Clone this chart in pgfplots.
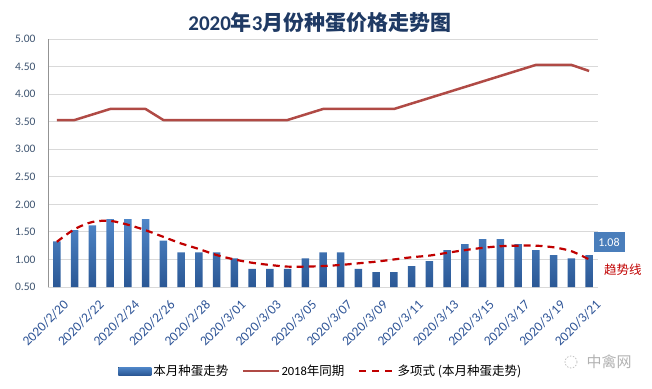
\documentclass[border=0pt]{standalone}
\usepackage{pgfplots}
\pgfplotsset{compat=1.18}
\usepackage{fontspec}
\setmainfont{Carlito}
\newfontfamily\cjk{Noto Sans CJK SC}
\definecolor{barTop}{HTML}{4F86C8}
\definecolor{barBot}{HTML}{2B5895}
\definecolor{line18}{HTML}{B04A45}
\definecolor{trend}{HTML}{C00000}
\definecolor{gridc}{HTML}{D9D9D9}
\definecolor{ytl}{HTML}{3E5470}
\definecolor{xtl}{HTML}{2F5597}
\definecolor{titlec}{HTML}{1F3A64}
\definecolor{labbox}{HTML}{4A7EBB}
\begin{document}
\begin{tikzpicture}
\path[use as bounding box] (0,0) rectangle (652pt,388pt);
\begin{axis}[
  at={(48pt,101pt)}, anchor=south west,
  scale only axis, width=550pt, height=248pt,
  xmin=-0.5, xmax=30.5, ymin=0.5, ymax=5,
  clip=false,
  axis x line*=bottom, axis y line*=left,
  x axis line style={draw=gridc, line width=0.8pt},
  y axis line style={draw=gray!85, line width=0.8pt},
  major tick length=0pt,
  ytick={0.5,1,...,5},
  ymajorgrids, grid style={gridc, line width=0.8pt},
  xtick={0,2,...,30},
  xticklabels={2020/2/20,2020/2/22,2020/2/24,2020/2/26,2020/2/28,2020/3/01,2020/3/03,2020/3/05,2020/3/07,2020/3/09,2020/3/11,2020/3/13,2020/3/15,2020/3/17,2020/3/19,2020/3/21},
  xticklabel style={rotate=45, anchor=north east, font=\fontsize{13.5}{15}\selectfont, text=xtl, xshift=-1pt, yshift=-9pt},
  yticklabel style={font=\fontsize{11.5}{13}\selectfont, text=ytl, xshift=-9pt},
  /pgf/number format/assume math mode=true,
  yticklabel={\pgfmathprintnumber[fixed,fixed zerofill,precision=2]{\tick}},
  legend columns=3,
  legend style={at={(0.496,-0.339)}, anchor=center, draw=none, fill=none,
    font=\fontsize{12.5}{14}\selectfont\cjk,
    /tikz/every even column/.append style={column sep=12pt}},
]
\addplot[ybar, bar width=7.5pt, draw=none, top color=barTop, bottom color=barBot,
  legend image code/.code={\fill[top color=barTop, bottom color=barBot] (0pt,-4pt) rectangle (33pt,4pt);}]
coordinates {
(0,1.33)(1,1.53)(2,1.62)(3,1.73)(4,1.73)(5,1.73)(6,1.34)(7,1.13)(8,1.13)(9,1.13)
(10,1.02)(11,0.83)(12,0.83)(13,0.83)(14,1.02)(15,1.13)(16,1.13)(17,0.83)(18,0.77)(19,0.77)
(20,0.88)(21,0.97)(22,1.17)(23,1.28)(24,1.37)(25,1.37)(26,1.28)(27,1.17)(28,1.08)(29,1.02)(30,1.08)};
\addlegendentry{本月种蛋走势}
\addplot[line18, line width=2.5pt, line join=round,
  legend image code/.code={\draw[line18, line width=1.2pt] (0pt,0pt) -- (36pt,0pt);}]
coordinates {
(0,3.53)(1,3.53)(2,3.63)(3,3.73)(4,3.73)(5,3.73)(6,3.53)(7,3.53)(8,3.53)(9,3.53)
(10,3.53)(11,3.53)(12,3.53)(13,3.53)(14,3.63)(15,3.73)(16,3.73)(17,3.73)(18,3.73)(19,3.73)
(20,3.83)(21,3.93)(22,4.03)(23,4.13)(24,4.23)(25,4.33)(26,4.43)(27,4.53)(28,4.53)(29,4.53)(30,4.42)};
\addlegendentry{{\fontspec{Carlito}2018}年同期}
\addplot[trend, line width=2.2pt, smooth, dash pattern=on 7pt off 5pt,
  legend image code/.code={\draw[trend, line width=2.2pt, dash pattern=on 7pt off 6pt] (0pt,0pt) -- (35pt,0pt);}]
coordinates {
(0,1.32)(1,1.55)(2,1.68)(3,1.70)(4,1.63)(5,1.53)(6,1.41)(7,1.29)(8,1.19)(9,1.08)
(10,1.00)(11,0.94)(12,0.90)(13,0.87)(14,0.87)(15,0.88)(16,0.90)(17,0.93)(18,0.96)(19,1.00)
(20,1.04)(21,1.07)(22,1.12)(23,1.17)(24,1.21)(25,1.24)(26,1.25)(27,1.25)(28,1.22)(29,1.15)(30,1.00)};
\addlegendentry{多项式 ({\cjk 本月种蛋走势})}
\node[fill=labbox, text=white, font=\fontsize{12}{14}\selectfont, inner sep=3pt, minimum height=20pt, minimum width=31pt] at (axis cs:31.12,1.315) {1.08};
\node[text=trend, font=\fontsize{12.5}{14}\selectfont\cjk] at (axis cs:31.9,0.81) {趋势线};
\end{axis}
\node[text=titlec, font=\fontsize{21}{24}\selectfont\bfseries] at (320pt,365pt) {2020{\cjk\bfseries 年}3{\cjk\bfseries 月份种蛋价格走势图}};
\node[text=gray!60, font=\fontsize{15}{17}\selectfont\cjk] at (609pt,26pt) {中禽网};
\draw[gray!50, line width=0.8pt, dash pattern=on 1.5pt off 1.5pt] (571pt,26pt) circle (6pt);
\end{tikzpicture}
\end{document}
